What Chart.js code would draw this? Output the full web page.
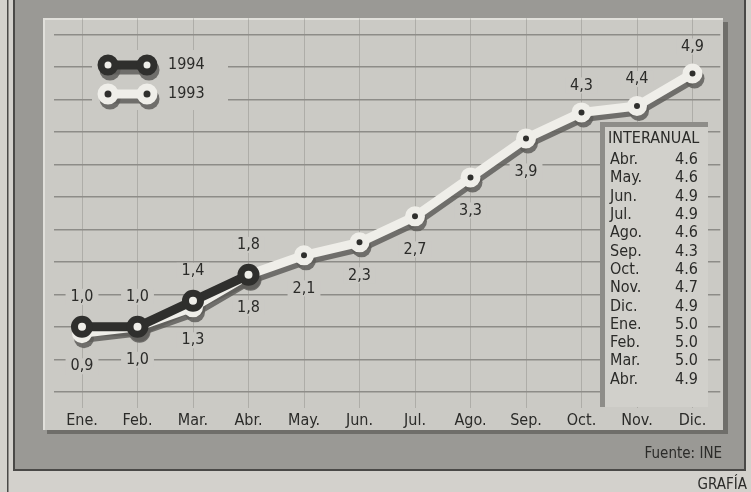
<!DOCTYPE html>
<html>
<head>
<meta charset="utf-8">
<script src="https://cdn.jsdelivr.net/npm/chart.js@4"></script>
<style>
  html, body { margin: 0; padding: 0; background: #d3d1cc; }
  #wrap { width: 751px; height: 492px; }
</style>
</head>
<body>
<div id="wrap"><canvas id="ipcChart" width="751" height="492"></canvas></div>
<script>
// data
const months = ['Ene.', 'Feb.', 'Mar.', 'Abr.', 'May.', 'Jun.', 'Jul.', 'Ago.', 'Sep.', 'Oct.', 'Nov.', 'Dic.'];
const ipc1994 = [1.0, 1.0, 1.4, 1.8, null, null, null, null, null, null, null, null];
const ipc1993 = [0.9, 1.0, 1.3, 1.8, 2.1, 2.3, 2.7, 3.3, 3.9, 4.3, 4.4, 4.9];
const seriesNames = ['1994', '1993'];
const yGridValues = [0, 0.5, 1, 1.5, 2, 2.5, 3, 3.5, 4, 4.5, 5, 5.5];
const interMonths = ['Abr.', 'May.', 'Jun.', 'Jul.', 'Ago.', 'Sep.', 'Oct.', 'Nov.', 'Dic.', 'Ene.', 'Feb.', 'Mar.', 'Abr.'];
const interValues = [4.6, 4.6, 4.9, 4.9, 4.6, 4.3, 4.6, 4.7, 4.9, 5.0, 5.0, 5.0, 4.9];
const sourceText = 'Fuente: INE';
const creditText = 'GRAFÍA';

const FONT = '"Liberation Sans Narrow", "DejaVu Sans Condensed", "Arial Narrow", sans-serif';
const INK = '#2b2b29';
const PANEL = '#cbcac5';
const SHADOW = 'rgba(95,94,90,0.85)';
const DARK = '#2f2f2d';
const LIGHT = '#efeee9';

Chart.defaults.font.family = FONT;
Chart.defaults.animation = false;

const comma = v => v.toFixed(1).replace('.', ',');

function marker(ctx, x, y, fill, ring, r, bw){
    ctx.beginPath();
    ctx.arc(x, y, r, 0, Math.PI * 2);
    ctx.fillStyle = fill;
    ctx.fill();
    ctx.lineWidth = bw;
    ctx.strokeStyle = ring;
    ctx.stroke();
}

// frame, panel and footer text
const framePlugin = {
    id: 'frame',
    beforeDraw(chart){
        const ctx = chart.ctx;
        ctx.save();
        ctx.fillStyle = '#d3d1cc';
        ctx.fillRect(0, 0, 751, 492);
        // outer rule
        ctx.fillStyle = '#4a4947';
        ctx.fillRect(7, 0, 1.5, 492);
        // dark frame
        ctx.fillStyle = '#9a9995';
        ctx.fillRect(14, -2, 731, 472);
        ctx.lineWidth = 2;
        ctx.strokeStyle = '#4a4947';
        ctx.strokeRect(14, -2, 731, 472);
        // panel shadow
        ctx.fillStyle = '#6f6e6a';
        ctx.fillRect(47, 22, 681, 412);
        // panel
        ctx.fillStyle = PANEL;
        ctx.fillRect(43, 18, 680, 412);
        ctx.fillStyle = '#e1e0db';
        ctx.fillRect(43, 18, 680, 2);
        ctx.fillRect(43, 18, 2, 412);
        // footer
        ctx.fillStyle = INK;
        ctx.textAlign = 'right';
        ctx.textBaseline = 'middle';
        ctx.font = '15px ' + FONT;
        ctx.fillText(sourceText, 722, 454);
        ctx.fillText(creditText, 747, 485);
        ctx.restore();
    }
};

// shadows, labels, legend and the INTERANUAL box, under the lines
const decorPlugin = {
    id: 'decor',
    beforeDatasetsDraw(chart){
        const ctx = chart.ctx;
        ctx.save();

        // INTERANUAL box
        ctx.fillStyle = '#8e8d89';
        ctx.fillRect(600, 122, 108, 285);
        ctx.fillStyle = '#d1d0cb';
        ctx.fillRect(605, 127, 103, 280);
        ctx.fillStyle = INK;
        ctx.font = '16px ' + FONT;
        ctx.textBaseline = 'middle';
        ctx.textAlign = 'left';
        ctx.fillText('INTERANUAL', 608, 139);
        interMonths.forEach((m, i) => {
            const y = 160 + i * 18.3;
            ctx.textAlign = 'left';
            ctx.fillText(m, 610, y);
            ctx.textAlign = 'right';
            ctx.fillText(interValues[i].toFixed(1), 698, y);
        });

        // value labels
        ctx.font = '16px ' + FONT;
        ctx.textAlign = 'center';
        chart.data.datasets.forEach((ds, di) => {
            const meta = chart.getDatasetMeta(di);
            meta.data.forEach((pt, i) => {
                const v = ds.data[i];
                if (v == null) return;
                let y;
                if (di === 0) y = pt.y - 30;
                else y = i <= 8 ? pt.y + 33 : pt.y - 27;
                const txt = comma(v);
                const w = ctx.measureText(txt).width + 10;
                ctx.fillStyle = PANEL;
                ctx.fillRect(pt.x - w / 2, y - 8, w, 16);
                ctx.fillStyle = INK;
                ctx.fillText(txt, pt.x, y);
            });
        });

        // legend
        const legendY = [65, 94];
        const legendStyle = [[DARK, LIGHT], [LIGHT, DARK]];
        ctx.fillStyle = PANEL;
        ctx.fillRect(92, 50, 136, 60);
        seriesNames.forEach((name, k) => {
            const y = legendY[k];
            ctx.save();
            ctx.translate(2, 5);
            ctx.strokeStyle = SHADOW;
            ctx.fillStyle = SHADOW;
            ctx.lineWidth = 9;
            ctx.beginPath(); ctx.moveTo(108, y); ctx.lineTo(147, y); ctx.stroke();
            [108, 147].forEach(x => { ctx.beginPath(); ctx.arc(x, y, 10.5, 0, Math.PI * 2); ctx.fill(); });
            ctx.restore();
            ctx.strokeStyle = legendStyle[k][0];
            ctx.lineWidth = 9;
            ctx.beginPath(); ctx.moveTo(108, y); ctx.lineTo(147, y); ctx.stroke();
            [108, 147].forEach(x => marker(ctx, x, y, legendStyle[k][1], legendStyle[k][0], 7, 7));
            ctx.fillStyle = INK;
            ctx.textAlign = 'left';
            ctx.fillText(name, 168, y);
        });

        // drop shadows of both lines
        ctx.translate(2, 5);
        ctx.strokeStyle = SHADOW;
        ctx.fillStyle = SHADOW;
        ctx.lineJoin = 'round';
        ctx.lineCap = 'round';
        chart.data.datasets.forEach((ds, di) => {
            const meta = chart.getDatasetMeta(di);
            const pts = meta.data.filter((p, i) => ds.data[i] != null);
            ctx.lineWidth = ds.borderWidth;
            ctx.beginPath();
            pts.forEach((p, i) => i ? ctx.lineTo(p.x, p.y) : ctx.moveTo(p.x, p.y));
            ctx.stroke();
            pts.forEach(p => {
                ctx.beginPath();
                ctx.arc(p.x, p.y, ds.pointRadius + ds.pointBorderWidth / 2, 0, Math.PI * 2);
                ctx.fill();
            });
        });
        ctx.restore();
    }
};

new Chart(document.getElementById('ipcChart').getContext('2d'), {
    type: 'line',
    data: {
        labels: months,
        datasets: [
            {
                label: seriesNames[0],
                data: ipc1994,
                borderColor: DARK,
                borderWidth: 9,
                borderJoinStyle: 'round',
                borderCapStyle: 'round',
                pointRadius: 7.5,
                pointBorderWidth: 7,
                pointBackgroundColor: LIGHT,
                pointBorderColor: DARK,
                tension: 0,
                clip: false
            },
            {
                label: seriesNames[1],
                data: ipc1993,
                borderColor: LIGHT,
                borderWidth: 9,
                borderJoinStyle: 'round',
                borderCapStyle: 'round',
                pointRadius: 6.5,
                pointBorderWidth: 7,
                pointBackgroundColor: DARK,
                pointBorderColor: LIGHT,
                tension: 0,
                clip: false
            }
        ]
    },
    options: {
        responsive: false,
        layout: { padding: { left: 54.25, right: 30.75, top: 18.25, bottom: 0 } },
        scales: {
            x: {
                offset: true,
                grid: { offset: false, color: 'rgba(120,119,115,0.35)', lineWidth: 1, drawTicks: false },
                border: { display: false },
                ticks: { color: INK, font: { size: 16 }, padding: 3 },
                afterFit: s => { s.height = 84; }
            },
            y: {
                min: -0.25,
                max: 5.75,
                grid: { color: '#8d8c88', lineWidth: 1.5, drawTicks: false },
                border: { display: false },
                ticks: { display: false },
                afterBuildTicks: s => { s.ticks = yGridValues.map(v => ({ value: v })); },
                afterFit: s => { s.width = 0; }
            }
        },
        plugins: {
            legend: { display: false },
            tooltip: { enabled: false }
        }
    },
    plugins: [framePlugin, decorPlugin]
});
</script>
</body>
</html>
